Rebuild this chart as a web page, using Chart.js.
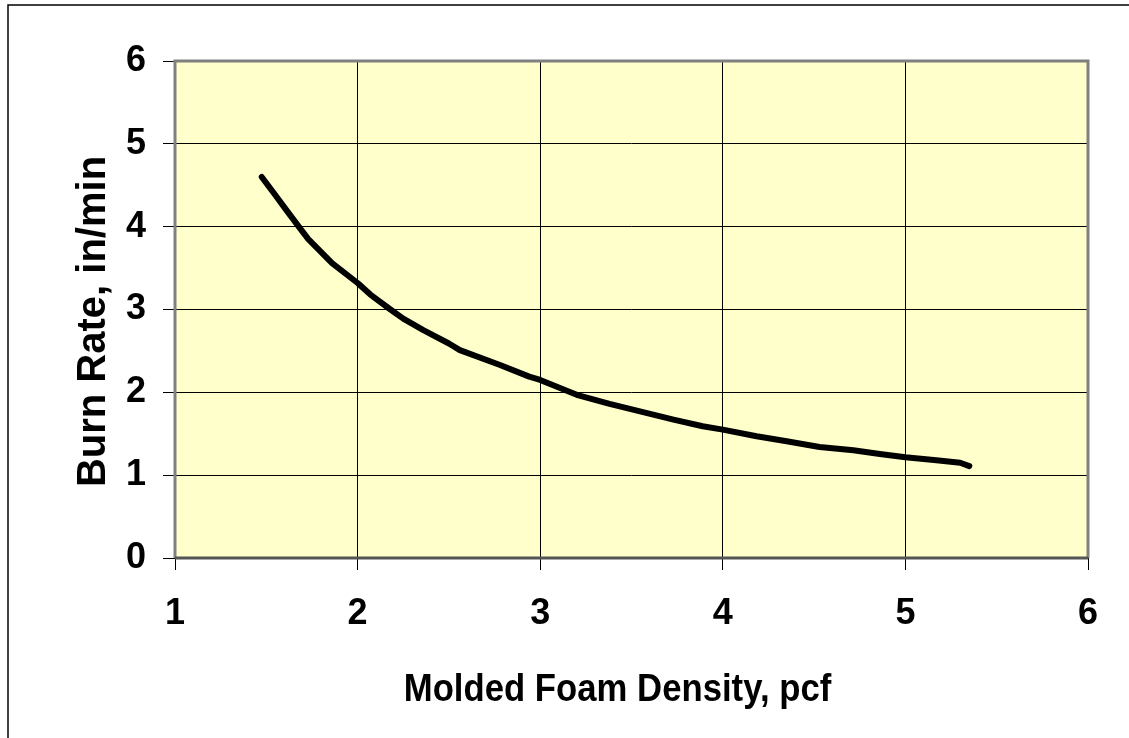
<!DOCTYPE html>
<html>
<head>
<meta charset="utf-8">
<script src="https://cdn.jsdelivr.net/npm/chart.js@4.4.1/dist/chart.umd.min.js"></script>
<style>
    html, body { margin: 0; padding: 0; background: #fff; }
    canvas { display: block; }
</style>
</head>
<body>
<canvas id="mainChart" width="1129" height="738"></canvas>
<script>
'use strict';

// values
const density  = [1.475, 1.55, 1.61, 1.685, 1.73, 1.86, 2.0, 2.07, 2.18, 2.25, 2.36, 2.5, 2.56, 2.78, 2.94, 3.0,
                  3.2, 3.38, 3.53, 3.73, 3.89, 4.0, 4.185, 4.35, 4.53, 4.715, 4.86, 5.0, 5.17, 5.3, 5.35];
const burnRate = [4.6, 4.38, 4.2, 3.98, 3.85, 3.56, 3.32, 3.18, 3.0, 2.89, 2.75, 2.59, 2.51, 2.33, 2.19, 2.15,
                  1.97, 1.86, 1.78, 1.67, 1.59, 1.55, 1.47, 1.41, 1.34, 1.30, 1.256, 1.216, 1.18, 1.15, 1.11];

const xTitle = 'Molded Foam Density, pcf';
const yTitle = 'Burn Rate, in/min';

const FONT = '"Liberation Sans", Arial, sans-serif';

const ctx = document.getElementById('mainChart').getContext('2d');

new Chart(ctx, {
    type: 'line',
    data: {
        datasets: [{
            data: density.map((x, i) => ({ x, y: burnRate[i] })),
            borderColor: '#000',
            borderWidth: 6,
            borderCapStyle: 'round',
            borderJoinStyle: 'round',
            pointRadius: 0,
            tension: 0,
            fill: false,
        }],
    },
    options: {
        responsive: false,
        animation: false,
        layout: { padding: { top: 61, right: 41, left: 0, bottom: 0 } },
        plugins: { legend: { display: false }, tooltip: { enabled: false } },
        scales: {
            x: {
                type: 'linear', min: 1, max: 6,
                ticks: { stepSize: 1, color: '#000', padding: 22, font: { family: FONT, size: 36, weight: 'bold' } },
                grid: { color: '#000', lineWidth: 1, tickLength: 12 },
                border: { display: false },
                afterFit(axis) { axis.height = 180; },
            },
            y: {
                min: 0, max: 6,
                ticks: { stepSize: 1, color: '#000', padding: 17, font: { family: FONT, size: 36, weight: 'bold' } },
                grid: { color: '#000', lineWidth: 1, tickLength: 12 },
                border: { display: false },
                afterFit(axis) { axis.width = 175; },
            },
        },
    },
    plugins: [{
        id: 'frame',
        beforeDraw(chart) {
            const { ctx, chartArea: { left, right, top, bottom } } = chart;
            ctx.save();
            ctx.fillStyle = '#ffffcc';
            ctx.fillRect(left, top, right - left, bottom - top);
            // outer frame of the picture
            ctx.strokeStyle = '#000';
            ctx.lineWidth = 1.5;
            ctx.beginPath();
            ctx.moveTo(8, 740); ctx.lineTo(8, 5); ctx.lineTo(1130, 5);
            ctx.stroke();
            ctx.restore();
        },
        afterDatasetsDraw(chart) {
            const { ctx, chartArea: { left, right, top, bottom } } = chart;
            ctx.save();
            ctx.lineWidth = 3;
            ctx.strokeStyle = '#808080';
            ctx.beginPath();
            ctx.moveTo(left, bottom); ctx.lineTo(left, top); ctx.lineTo(right, top); ctx.lineTo(right, bottom);
            ctx.stroke();
            ctx.strokeStyle = '#555';
            ctx.beginPath(); ctx.moveTo(left, bottom); ctx.lineTo(right, bottom); ctx.stroke();
            ctx.restore();
        },
        afterDraw(chart) {
            // axis titles: the original x title is a slightly condensed bold face
            const { ctx, chartArea: { left, right, top, bottom } } = chart;
            ctx.save();
            ctx.fillStyle = '#000';
            ctx.textAlign = 'center';
            ctx.textBaseline = 'alphabetic';
            ctx.save();
            ctx.font = `bold 39px ${FONT}`;
            ctx.translate((left + right) / 2 - 14, 701);
            ctx.scale(0.89, 1);
            ctx.fillText(xTitle, 0, 0);
            ctx.restore();
            ctx.font = `bold 40px ${FONT}`;
            ctx.translate(105, (top + bottom) / 2 + 12);
            ctx.rotate(-Math.PI / 2);
            ctx.fillText(yTitle, 0, 0);
            ctx.restore();
        },
    }],
});
</script>
</body>
</html>
